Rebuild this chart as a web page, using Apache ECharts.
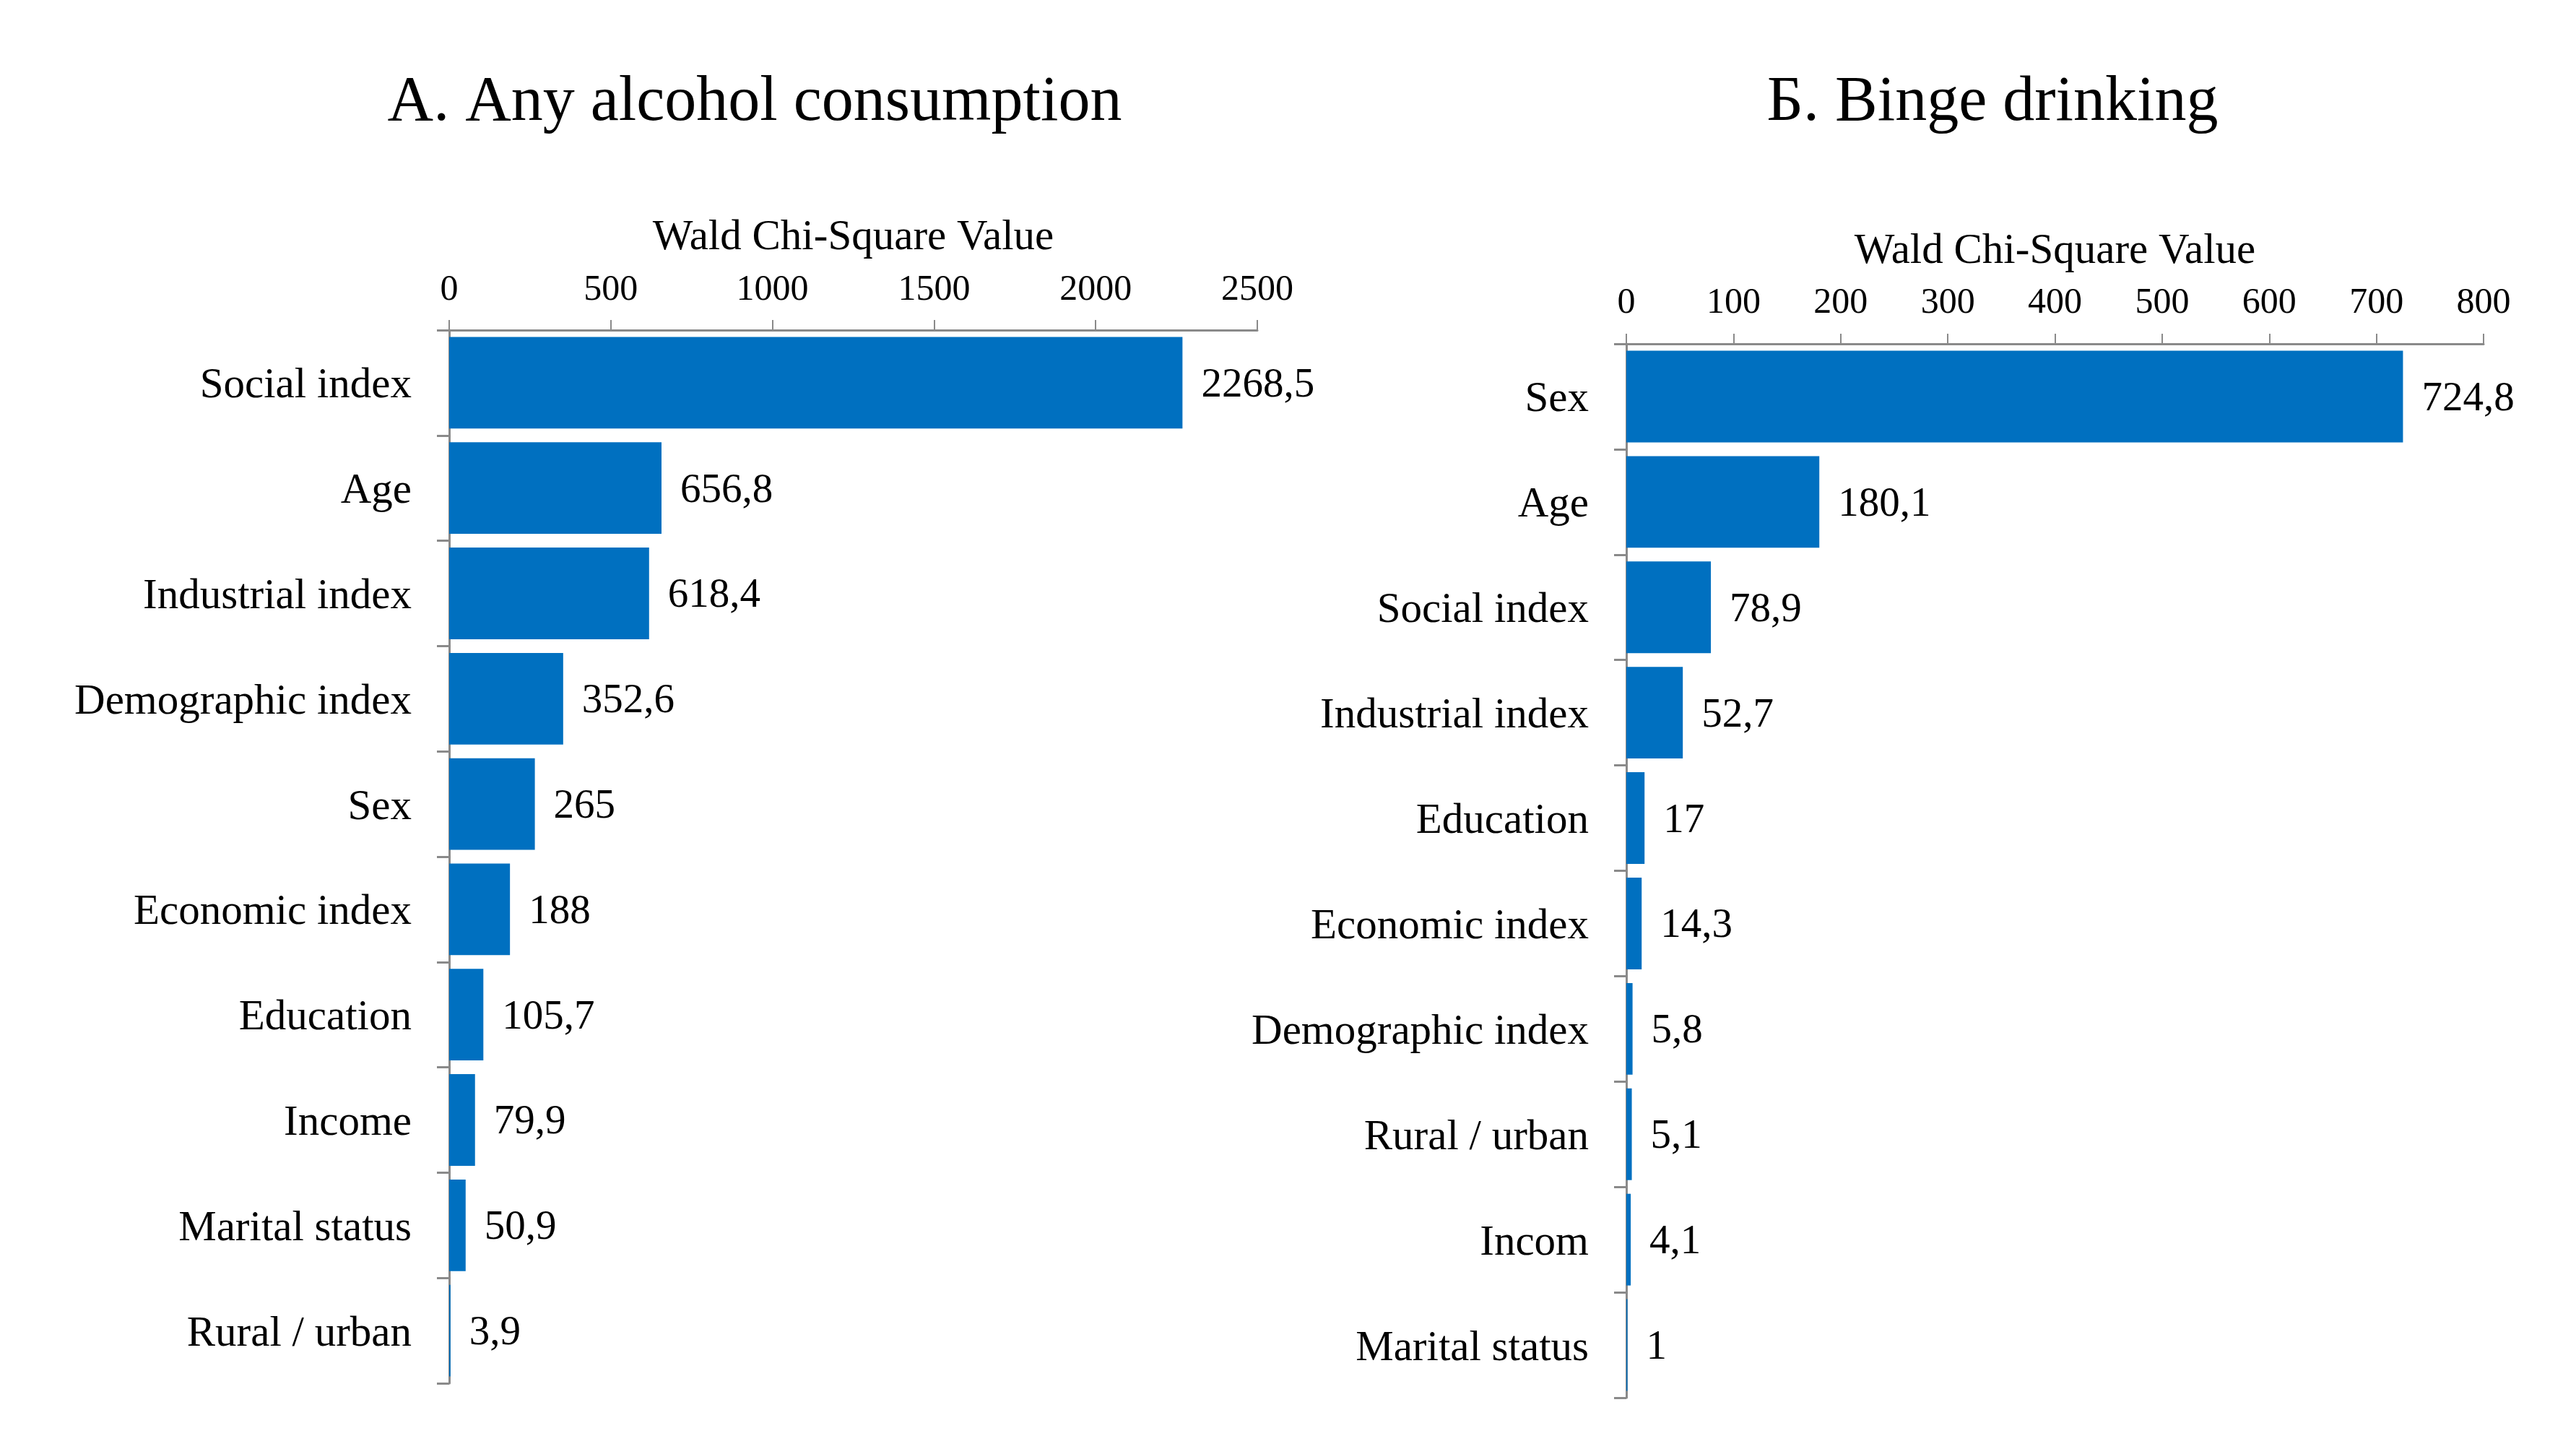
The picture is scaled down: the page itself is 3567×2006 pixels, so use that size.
<!DOCTYPE html>
<html>
<head>
<meta charset="utf-8">
<script src="https://cdn.jsdelivr.net/npm/echarts@6/dist/echarts.min.js"></script>
<style>
html,body{margin:0;padding:0;background:#fff;}
#c{width:3567px;height:2006px;}
</style>
</head>
<body>
<div id="c"></div>
<script>
const titleA = 'A. Any alcohol consumption';
const titleB = 'Б. Binge drinking';
const axisName = 'Wald Chi-Square Value';

const categoriesA = ['Social index','Age','Industrial index','Demographic index','Sex','Economic index','Education','Income','Marital status','Rural / urban'];
const valuesA = [2268.5, 656.8, 618.4, 352.6, 265, 188, 105.7, 79.9, 50.9, 3.9];
const ticksA = { min: 0, max: 2500, interval: 500 };

const categoriesB = ['Sex','Age','Social index','Industrial index','Education','Economic index','Demographic index','Rural / urban','Incom','Marital status'];
const valuesB = [724.8, 180.1, 78.9, 52.7, 17, 14.3, 5.8, 5.1, 4.1, 1];
const ticksB = { min: 0, max: 800, interval: 100 };

const FONT = "'Liberation Serif','Times New Roman',serif";
const AXIS_COLOR = '#8a8a8a';
const BAR_COLOR = '#0070C0';

function fmt(v){ return String(v).replace('.', ','); }

function xAxisCfg(gi, t, nameGap, margin){
  return {
    gridIndex: gi, type: 'value', position: 'top',
    min: t.min, max: t.max, interval: t.interval,
    name: axisName, nameLocation: 'middle', nameGap: nameGap,
    nameTextStyle: { fontFamily: FONT, fontSize: 59, color: '#000' },
    axisLine: { show: true, lineStyle: { color: AXIS_COLOR, width: 3 } },
    axisTick: { show: true, length: 14, lineStyle: { color: AXIS_COLOR, width: 2 } },
    axisLabel: { fontFamily: FONT, fontSize: 50, color: '#000', margin: margin,
      formatter: v => String(v) },
    splitLine: { show: false }
  };
}
function yAxisCfg(gi, cats){
  return {
    gridIndex: gi, type: 'category', data: cats, inverse: true,
    axisLine: { show: true, lineStyle: { color: AXIS_COLOR, width: 3 } },
    axisTick: { show: true, length: 17, lineStyle: { color: AXIS_COLOR, width: 3 } },
    axisLabel: { fontFamily: FONT, fontSize: 59, color: '#000', margin: 52,
      verticalAlign: 'top', lineHeight: 10 }
  };
}
function seriesCfg(gi, vals){
  return {
    type: 'bar', xAxisIndex: gi, yAxisIndex: gi, data: vals,
    barCategoryGap: '13%',
    itemStyle: { color: BAR_COLOR },
    label: { show: true, position: 'right', distance: 26, offset: [0, 4], fontFamily: FONT, fontSize: 57, color: '#000',
      formatter: p => fmt(p.value) },
    animation: false
  };
}

const chart = echarts.init(document.getElementById('c'), null, { renderer: 'canvas' });
chart.setOption({
  backgroundColor: '#fff',
  animation: false,
  title: [
    { text: titleA, left: 1040, top: 94, textAlign: 'center',
      textStyle: { fontFamily: FONT, fontSize: 88, fontWeight: 'normal', color: '#000' } },
    { text: titleB, left: 2754, top: 94, textAlign: 'center',
      textStyle: { fontFamily: FONT, fontSize: 88, fontWeight: 'normal', color: '#000' } }
  ],
  grid: [
    { left: 622, top: 457, width: 1119, height: 1458, containLabel: false },
    { left: 2252, top: 476, width: 1187, height: 1459, containLabel: false }
  ],
  xAxis: [ xAxisCfg(0, ticksA, 98, 30), xAxisCfg(1, ticksB, 98, 31) ],
  yAxis: [ yAxisCfg(0, categoriesA), yAxisCfg(1, categoriesB) ],
  series: [ seriesCfg(0, valuesA), seriesCfg(1, valuesB) ]
});
</script>
</body>
</html>
